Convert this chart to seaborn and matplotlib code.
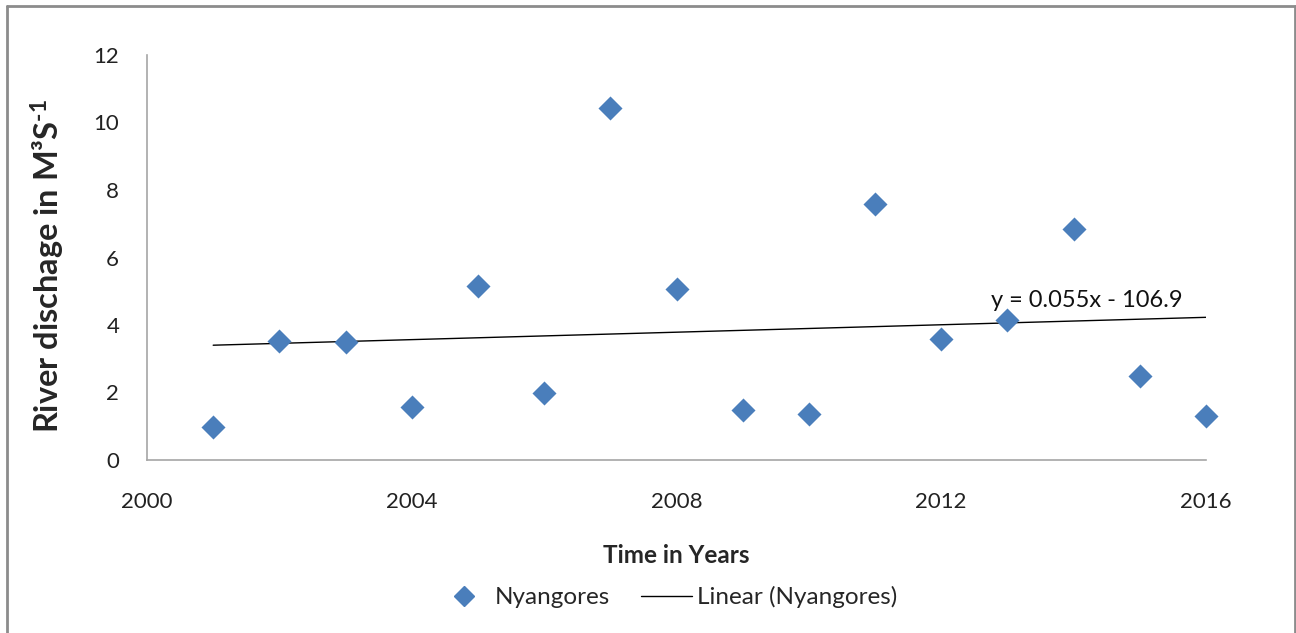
import numpy as np
import pandas as pd
import matplotlib
matplotlib.use("Agg")
import matplotlib.pyplot as plt
from matplotlib.lines import Line2D
import seaborn as sns

years = [2001, 2002, 2003, 2004, 2005, 2006, 2007, 2008,
         2009, 2010, 2011, 2012, 2013, 2014, 2015, 2016]
discharge = [0.98, 3.53, 3.50, 1.57, 5.16, 1.99, 10.43, 5.07,
             1.48, 1.36, 7.59, 3.59, 4.15, 6.84, 2.49, 1.30]
series_name = "Nyangores"
trend_name = "Linear (Nyangores)"
equation = "y = 0.055x - 106.9"
xticks = [2000, 2004, 2008, 2012, 2016]
yticks = [0, 2, 4, 6, 8, 10, 12]

df = pd.DataFrame({"year": years, "q": discharge})

sns.set_style("white")
plt.rcParams["font.family"] = ["Lato", "DejaVu Sans"]
plt.rcParams["mathtext.fontset"] = "custom"
plt.rcParams["mathtext.rm"] = "Lato:bold"
plt.rcParams["mathtext.it"] = "Lato:bold"
plt.rcParams["mathtext.bf"] = "Lato:bold"

W, H = 1296, 633
fig = plt.figure(figsize=(W / 100, H / 100), dpi=100)
ax = fig.add_axes([147 / W, 1 - 460 / H, (1206 - 147) / W, (460 - 55) / H])

blue = "#4A7EBB"
sns.regplot(data=df, x="year", y="q", scatter=False, ci=None, ax=ax,
            line_kws=dict(color="black", lw=1.0), truncate=True)
sns.scatterplot(data=df, x="year", y="q", marker="D", s=150, color=blue,
                edgecolor=blue, linewidth=0, ax=ax, zorder=3, clip_on=False)

ax.set_xlim(2000, 2016)
ax.set_ylim(0, 12)
ax.set_xticks(xticks)
ax.set_yticks(yticks)
ax.tick_params(axis="both", length=0, labelsize=16, colors="#222222")
ax.tick_params(axis="x", pad=23)
ax.tick_params(axis="y", pad=20)
for s in ["top", "right"]:
    ax.spines[s].set_visible(False)
for s in ["left", "bottom"]:
    ax.spines[s].set_color("#a6a6a6")
    ax.spines[s].set_linewidth(1.2)

ax.set_xlabel("Time in Years", fontsize=17.5, fontweight="bold", labelpad=23)
ax.set_ylabel("River dischage in M³S$^{\\text{-1}}$", fontsize=23.4,
              fontweight="bold")
ax.yaxis.set_label_coords((67 - 147) / 1059, (460 - 266) / 405)

ax.text(2015.64, 4.53, equation, fontsize=17, ha="right", va="baseline",
        color="#111111")

handles = [
    Line2D([], [], marker="D", color=blue, linestyle="none", markersize=10),
    Line2D([], [], color="black", lw=1.0),
]
fig.legend(handles, [series_name, trend_name], loc="center",
           bbox_to_anchor=(668 / W, 1 - 597 / H), ncol=2, frameon=False,
           fontsize=17.5, handlelength=2.1, columnspacing=1.3, handletextpad=0.2)

# outer chart frame
fc = "#8c8c8c"
fig.add_artist(Line2D([7 / W, 7 / W], [0, 1 - 6 / H], transform=fig.transFigure, color=fc, lw=2))
fig.add_artist(Line2D([7 / W, 1295 / W], [1 - 6 / H, 1 - 6 / H], transform=fig.transFigure, color=fc, lw=2))
fig.add_artist(Line2D([1294.5 / W, 1294.5 / W], [0, 1 - 6 / H], transform=fig.transFigure, color=fc, lw=2))

fig.savefig("out.png", dpi=100)
